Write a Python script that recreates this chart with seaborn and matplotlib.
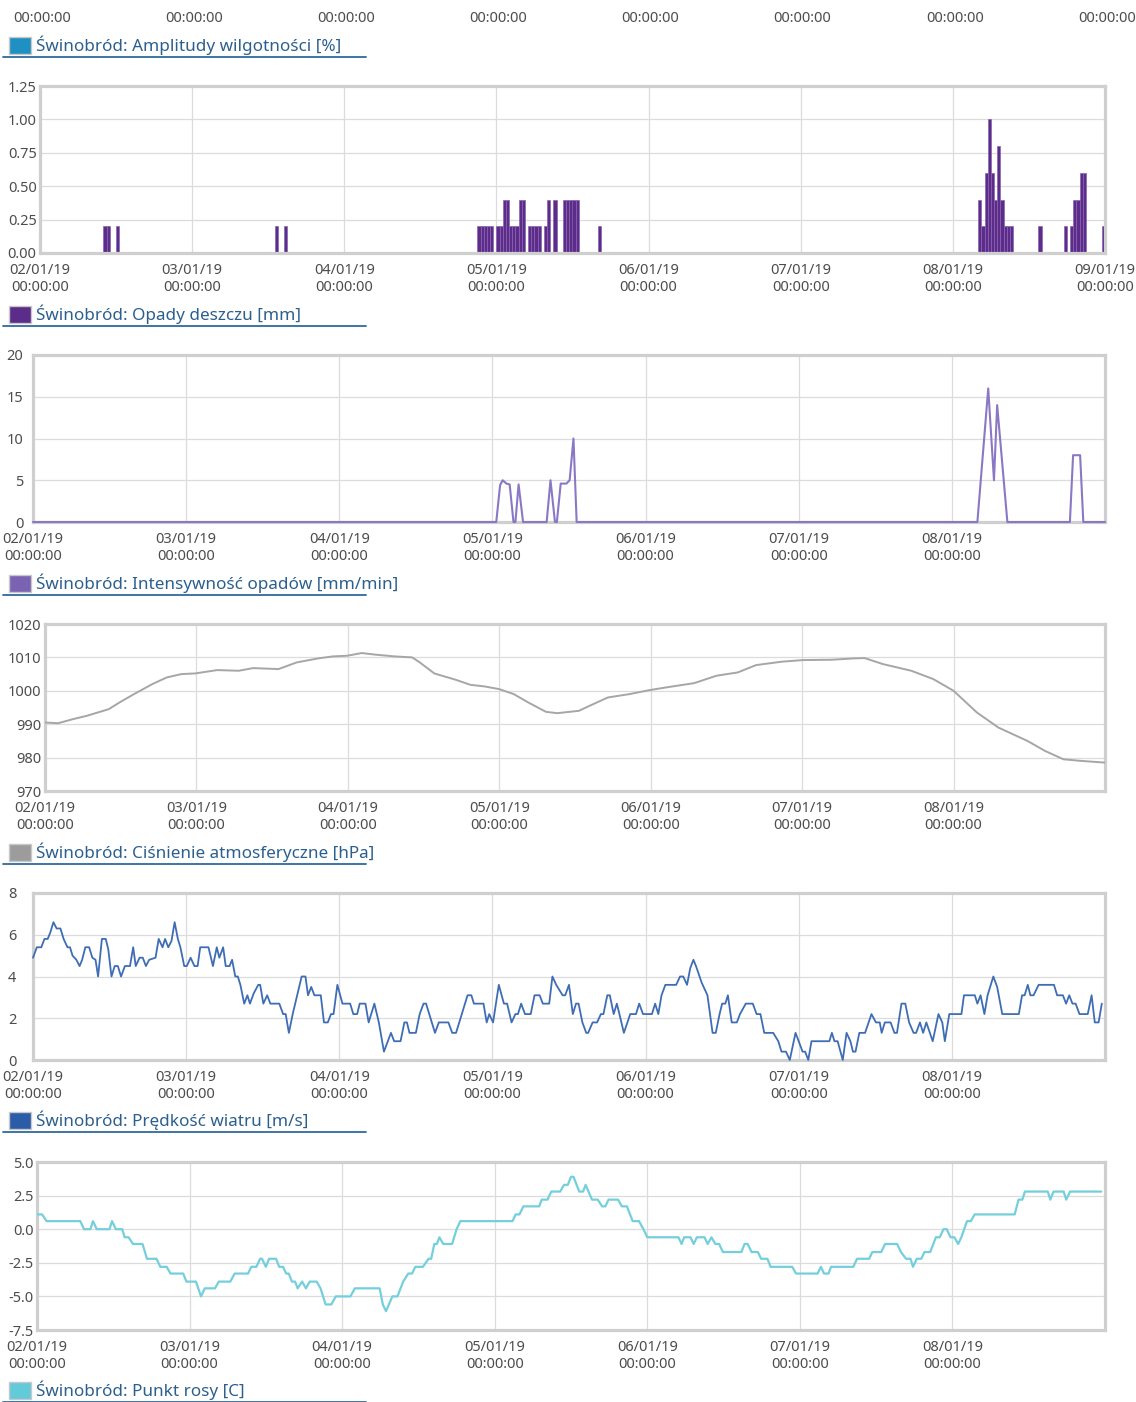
import matplotlib
matplotlib.use("Agg")
import matplotlib.pyplot as plt
import matplotlib.transforms as mtransforms
from matplotlib.patches import Rectangle
from matplotlib.lines import Line2D
import seaborn as sns
import pandas as pd

# time axis: hours since 02/01/19 00:00:00
day_starts = pd.date_range("2019-01-02", periods=8, freq="D")
day_hours = [24 * i for i in range(8)]
day_labels = [d.strftime("%d/%m/%y\n%H:%M:%S") for d in day_starts]

# Opady deszczu [mm], 30 min sums (start hour of each slot)
rain_hour = [10.0, 10.5, 12.0, 37.0, 38.5,
             69.0, 69.5, 70.0, 70.5, 71.0, 72.0, 72.5, 73.0, 73.5, 74.0,
             74.5, 75.0, 75.5, 76.0, 77.0, 77.5, 78.0, 78.5, 79.5, 80.0,
             81.0, 82.5, 83.0, 83.5, 84.0, 84.5, 88.0,
             148.0, 148.5, 149.0, 149.5, 150.0, 150.5, 151.0, 151.5, 152.0,
             152.5, 153.0, 157.5, 161.5, 162.5, 163.0, 163.5, 164.0, 164.5, 167.5]
rain_mm = [0.2, 0.2, 0.2, 0.2, 0.2,
           0.2, 0.2, 0.2, 0.2, 0.2, 0.2, 0.2, 0.4, 0.4, 0.2,
           0.2, 0.2, 0.4, 0.4, 0.2, 0.2, 0.2, 0.2, 0.2, 0.4,
           0.4, 0.4, 0.4, 0.4, 0.4, 0.4, 0.2,
           0.4, 0.2, 0.6, 1.0, 0.6, 0.4, 0.8, 0.4, 0.2,
           0.2, 0.2, 0.2, 0.2, 0.2, 0.4, 0.4, 0.6, 0.6, 0.2]

# Intensywność opadów [mm/min]
int_hour = [0, 72.6, 73.2, 73.6, 74.2, 74.7, 75.3, 75.6, 76.1, 76.8,
            80.5, 81.1, 81.8, 82.1, 82.7, 83.6, 84.1, 84.7, 85.2,
            148.0, 149.7, 150.6, 151.1, 152.7,
            162.5, 163.0, 164.1, 164.6, 168.0]
int_val = [0, 0, 4.4, 5.0, 4.6, 4.5, 0, 0, 4.5, 0,
           0, 5.0, 0, 0, 4.6, 4.6, 5.0, 10.0, 0,
           0, 16.0, 5.0, 14.0, 0,
           0, 8.0, 8.0, 0, 0]

# Ciśnienie atmosferyczne [hPa]
pres_hour = [0, 2.1, 4.4, 6.6, 10.1, 11.8, 14.1, 17.0, 19.3, 21.6,
             23.8, 27.3, 30.7, 33.0, 37.0, 39.9, 43.3, 45.6, 47.9, 50.2,
             52.5, 55.4, 58.2, 59.4, 61.7, 65.1, 67.4, 69.7, 72.0, 74.3,
             76.6, 79.4, 81.2, 84.6, 86.3, 89.2, 92.6, 95.8, 98.4, 102.9,
             106.4, 109.8, 112.7, 116.7, 120.1, 124.7, 128.2, 129.9, 132.8, 137.3,
             140.8, 144.0, 147.7, 151.1, 155.7, 158.5, 161.4, 164.3, 168.0]
pres_hpa = [990.5, 990.3, 991.5, 992.5, 994.5, 996.5, 999.0, 1002.0, 1004.0, 1005.0,
            1005.2, 1006.2, 1006.0, 1006.8, 1006.5, 1008.5, 1009.7, 1010.3, 1010.5, 1011.3,
            1010.8, 1010.3, 1010.0, 1008.5, 1005.2, 1003.3, 1001.8, 1001.3, 1000.5, 999.0,
            996.5, 993.7, 993.3, 994.0, 995.5, 998.0, 999.0, 1000.2, 1001.0, 1002.3,
            1004.5, 1005.5, 1007.7, 1008.7, 1009.2, 1009.3, 1009.7, 1009.8, 1008.0, 1006.0,
            1003.5, 1000.0, 993.5, 989.0, 985.0, 982.0, 979.5, 979.0, 978.5]

# Prędkość wiatru [m/s]
wind_hour = [0, 0.6, 1.3, 1.8, 2.3, 2.7, 3.2, 3.7, 4.3, 4.8,
             5.4, 5.8, 6.2, 6.8, 7.3, 7.7, 8.2, 8.8, 9.3, 9.8,
             10.2, 10.8, 11.4, 11.8, 12.3, 12.8, 13.3, 13.8, 14.4, 15.2,
             15.7, 16.1, 16.7, 17.2, 17.7, 18.2, 19.2, 19.7, 20.3, 20.7,
             21.2, 21.7, 22.2, 22.7, 23.1, 23.7, 24.1, 24.7, 25.3, 25.8,
             26.2, 27.5, 28.2, 28.8, 29.2, 29.8, 30.2, 30.8, 31.2, 31.7,
             32.1, 32.5, 33.1, 33.6, 34.0, 34.6, 35.3, 35.6, 36.1, 36.7,
             37.2, 38.6, 39.2, 39.6, 40.1, 40.7, 41.4, 42.1, 42.7, 43.1,
             43.6, 44.1, 45.1, 45.6, 46.2, 46.7, 47.1, 47.7, 48.5, 49.7,
             50.2, 50.8, 51.2, 52.1, 52.6, 53.5, 54.2, 55.0, 56.1, 56.6,
             57.6, 58.2, 58.6, 59.0, 60.0, 60.6, 61.2, 61.6, 62.1, 63.0,
             63.6, 65.1, 65.7, 66.3, 67.2, 68.1, 68.7, 69.1, 70.6, 71.1,
             71.5, 72.1, 73.0, 73.8, 74.3, 75.0, 75.6, 76.0, 76.5, 77.1,
             78.0, 78.6, 79.4, 79.9, 80.9, 81.4, 82.0,
             83.0, 83.4, 84.0, 84.6, 85.1, 85.5, 86.1, 86.7, 87.0, 87.7,
             88.4, 89.0, 89.4, 90.0, 90.4, 91.0, 91.5, 91.9, 92.6, 93.6,
             94.5, 95.0, 95.6, 97.0, 97.5, 98.0, 98.5, 99.1, 100.8, 101.4,
             101.9, 102.5, 103.0, 103.5, 103.9, 104.8, 105.7, 106.5, 107.0, 107.6,
             108.0, 108.5, 108.9, 109.5, 110.3, 110.8, 111.7, 112.8, 113.4, 114.0,
             114.6, 116.0, 116.8, 117.3, 118.0, 118.6, 119.5, 120.0, 120.6, 121.0,
             121.5, 122.0, 124.8, 125.2, 125.6, 126.1, 126.9, 127.5, 128.1, 128.5,
             128.9, 129.5, 130.4, 131.4, 132.1, 132.7, 133.0, 133.5, 134.4, 135.0,
             135.4, 136.1, 136.7, 137.3, 138.0, 138.4, 139.0, 139.5, 140.0, 141.0,
             141.9, 142.5, 142.9, 143.6, 144.0, 145.5, 145.9, 147.6, 148.0, 148.5,
             149.1, 149.6, 150.5, 151.1, 151.9, 154.5, 155.0, 155.4, 155.9, 156.3,
             156.8, 157.6, 160.0, 160.5, 161.4, 161.9, 162.4, 162.9, 163.4, 164.0,
             165.3, 165.9, 166.4, 167.0, 167.5]
wind_ms = [4.9, 5.4, 5.4, 5.8, 5.8, 6.1, 6.6, 6.3, 6.3, 5.8,
           5.4, 5.4, 5.0, 4.8, 4.5, 4.8, 5.4, 5.4, 4.9, 4.8,
           4.0, 5.8, 5.8, 5.3, 4.0, 4.5, 4.5, 4.0, 4.5, 4.5,
           5.4, 4.5, 4.9, 4.9, 4.5, 4.8, 4.9, 5.8, 5.4, 5.8,
           5.4, 5.7, 6.6, 5.8, 5.4, 4.5, 4.5, 4.9, 4.5, 4.5,
           5.4, 5.4, 4.5, 5.4, 4.9, 5.4, 4.5, 4.5, 4.8, 4.0,
           4.0, 3.6, 2.7, 3.1, 2.7, 3.2, 3.6, 3.6, 2.7, 3.1,
           2.7, 2.7, 2.2, 2.2, 1.3, 2.2, 3.1, 4.0, 4.0, 3.1,
           3.5, 3.1, 3.1, 1.8, 1.8, 2.2, 2.2, 3.6, 2.7, 2.7,
           2.2, 2.2, 2.7, 2.7, 1.8, 2.7, 1.8, 0.4, 1.3, 0.9,
           0.9, 1.8, 1.8, 1.3, 1.3, 2.2, 2.7, 2.7, 2.2, 1.3,
           1.8, 1.8, 1.3, 1.3, 2.2, 3.1, 3.1, 2.7, 2.7, 1.8,
           2.2, 1.8, 3.6, 2.7, 2.7, 1.8, 2.2, 2.2, 2.7, 2.2,
           2.2, 3.1, 3.1, 2.7, 2.7, 4.0, 3.6,
           3.1, 3.1, 3.6, 2.2, 2.7, 2.7, 1.8, 1.3, 1.3, 1.8,
           1.8, 2.2, 2.2, 3.1, 3.1, 2.2, 2.7, 2.2, 1.3, 2.2,
           2.2, 2.7, 2.2, 2.2, 2.7, 2.2, 3.1, 3.6, 3.6, 4.0,
           4.0, 3.6, 4.4, 4.8, 4.5, 3.7, 3.1, 1.3, 1.3, 2.2,
           2.7, 2.7, 3.1, 1.8, 1.8, 2.2, 2.7, 2.7, 2.2, 2.2,
           1.3, 1.3, 0.9, 0.4, 0.4, 0.0, 1.3, 0.9, 0.4, 0.4,
           0.0, 0.9, 0.9, 1.3, 0.9, 0.9, 0.0, 1.3, 0.9, 0.4,
           0.4, 1.3, 1.3, 2.2, 1.8, 1.8, 1.3, 1.8, 1.8, 1.3,
           1.3, 2.7, 2.7, 1.8, 1.3, 1.3, 1.8, 1.3, 1.8, 0.9,
           2.2, 1.8, 0.9, 2.2, 2.2, 2.2, 3.1, 3.1, 2.7, 3.1,
           2.2, 3.1, 4.0, 3.5, 2.2, 2.2, 3.1, 3.1, 3.6, 3.1,
           3.1, 3.6, 3.6, 3.1, 3.1, 2.7, 3.1, 2.7, 2.7, 2.2,
           2.2, 3.1, 1.8, 1.8, 2.7]

# Punkt rosy [C]
dew_hour = [0, 0.8, 1.5, 6.8, 7.4, 8.4, 8.8, 9.4, 11.4, 11.8,
            12.4, 13.4, 13.8, 14.4, 15.1, 16.6, 17.3, 18.8, 19.4, 20.4,
            21.0, 23.0, 23.5, 25.0, 25.8, 26.4, 28.0, 28.6, 30.4, 31.1,
            33.2, 33.7, 34.5, 35.1, 35.4, 36.0, 36.5, 37.6, 38.1, 38.7,
            39.2, 39.6, 40.1, 40.6, 41.0, 41.7, 42.3, 42.9, 44.0, 44.6,
            45.4, 46.3, 47.0, 49.3, 50.0, 53.9, 54.4, 54.9, 55.9, 56.7,
            57.6, 58.4, 59.0, 59.5, 60.7, 61.6, 62.0, 62.5, 62.9, 63.3,
            63.9, 65.3, 66.0, 66.6, 74.8, 75.3, 75.9, 76.5, 79.0, 79.4,
            80.3, 80.9, 82.3, 82.9, 83.5, 84.0, 84.4, 85.3, 85.9, 86.3,
            87.3, 88.2, 88.9, 89.4, 89.9, 91.4, 92.0, 92.8, 93.7, 94.7,
            95.4, 96.0, 100.9, 101.4, 101.8, 102.8, 103.3, 103.8, 105.0, 105.5,
            106.1, 106.7, 107.3, 107.9, 110.8, 111.3, 111.8, 112.4, 113.4, 113.9,
            114.9, 115.4, 118.8, 119.4, 122.8, 123.3, 123.8, 124.5, 124.9, 128.4,
            129.0, 130.9, 131.4, 132.8, 133.4, 135.3, 135.9, 136.7, 137.4, 137.8,
            138.4, 139.1, 139.6, 140.5, 141.4, 142.0, 142.6, 143.1, 143.7, 144.3,
            144.9, 145.4, 146.3, 146.9, 147.5, 153.8, 154.4, 155.0, 155.4, 159.0,
            159.4, 159.9, 161.5, 161.9, 162.5, 167.4]
dew_c = [1.1, 1.1, 0.6, 0.6, 0.0, 0.0, 0.6, 0.0, 0.0, 0.6,
         0.0, 0.0, -0.6, -0.6, -1.1, -1.1, -2.2, -2.2, -2.8, -2.8,
         -3.3, -3.3, -3.9, -3.9, -5.0, -4.4, -4.4, -3.9, -3.9, -3.3,
         -3.3, -2.8, -2.8, -2.2, -2.2, -2.8, -2.2, -2.2, -2.8, -2.8,
         -3.3, -3.3, -3.9, -3.9, -4.4, -3.9, -4.4, -3.9, -3.9, -4.4,
         -5.6, -5.6, -5.0, -5.0, -4.4, -4.4, -5.6, -6.1, -5.0, -5.0,
         -3.9, -3.3, -3.3, -2.8, -2.8, -2.2, -2.2, -1.1, -1.1, -0.6,
         -1.1, -1.1, 0.0, 0.6, 0.6, 1.1, 1.1, 1.7, 1.7, 2.2,
         2.2, 2.8, 2.8, 3.3, 3.3, 3.9, 3.9, 2.8, 2.8, 3.3,
         2.2, 2.2, 1.7, 1.7, 2.2, 2.2, 1.7, 1.7, 0.6, 0.6,
         0.0, -0.6, -0.6, -1.1, -0.6, -0.6, -1.1, -0.6, -0.6, -1.1,
         -0.6, -1.1, -1.1, -1.7, -1.7, -1.1, -1.1, -1.7, -1.7, -2.2,
         -2.2, -2.8, -2.8, -3.3, -3.3, -2.8, -3.3, -3.3, -2.8, -2.8,
         -2.2, -2.2, -1.7, -1.7, -1.1, -1.1, -1.7, -2.2, -2.2, -2.8,
         -2.2, -2.2, -1.7, -1.7, -0.6, -0.6, 0.0, 0.0, -0.6, -0.6,
         -1.1, -0.6, 0.6, 0.6, 1.1, 1.1, 2.2, 2.2, 2.8, 2.8,
         2.2, 2.8, 2.8, 2.2, 2.8, 2.8]

sns.set_theme(style="whitegrid")
plt.rcParams["font.family"] = ["Noto Sans", "DejaVu Sans"]

W, H = 1136, 1402
fig = plt.figure(figsize=(W / 100, H / 100), dpi=100)

GRID = "#dcdcdc"
FRAME = "#cfcfcf"
TICK = "#4d4d4d"
LEG_TXT = "#2b5f8e"
LEG_LINE = "#2e6a9e"

shift_right = mtransforms.ScaledTranslation(3 / 100, 0, fig.dpi_scale_trans)


def panel(box, ylim, yticks, yfmt, ypad, label_last=False):
    left, top, right, bottom = box
    ax = fig.add_axes([left / W, 1 - bottom / H, (right - left) / W, (bottom - top) / H])
    ax.set_facecolor("white")
    ax.set_xlim(0, 168)
    ax.set_ylim(*ylim)
    n = 8 if label_last else 7
    ax.set_xticks(day_hours[:n])
    ax.set_xticklabels(day_labels[:n], linespacing=1.25)
    for lab in ax.get_xticklabels():
        lab.set_transform(lab.get_transform() + shift_right)
    ax.set_yticks(yticks)
    ax.set_yticklabels([yfmt.format(v) for v in yticks])
    ax.grid(True, color=GRID, linewidth=0.9)
    for s in ax.spines.values():
        s.set_visible(True)
        s.set_color(FRAME)
        s.set_linewidth(2.3)
    ax.tick_params(axis="both", length=0, labelsize=10.5, colors=TICK)
    ax.tick_params(axis="x", pad=7)
    ax.tick_params(axis="y", pad=ypad)
    return ax


def legend_row(yc, color, text):
    fig.add_artist(Rectangle((9 / W, 1 - (yc + 8.5) / H), 22 / W, 17 / H,
                             transform=fig.transFigure, facecolor=color,
                             edgecolor="#c8c8c8", linewidth=1))
    fig.text(36 / W, 1 - yc / H, text, color=LEG_TXT, fontsize=12.3,
             va="center", ha="left")
    fig.add_artist(Line2D([3 / W, 366 / W], [1 - (yc + 12) / H] * 2,
                          transform=fig.transFigure, color=LEG_LINE, linewidth=1.3))


# panel 1: rain
ax1 = panel((40, 86, 1105, 253), (0, 1.25), [0, 0.25, 0.5, 0.75, 1.0, 1.25],
            "{:.2f}", 2.5, label_last=True)
sns.histplot(x=rain_hour, weights=rain_mm, binwidth=0.5, binrange=(0, 168),
             color="#5b2c8a", alpha=1, edgecolor="#8a63b0", linewidth=0.5, ax=ax1)
# drop empty bins so they draw no edge on the base line
for p in list(ax1.patches):
    if p.get_height() <= 0:
        p.remove()

# panel 2: rain intensity
ax2 = panel((33, 355, 1105, 522), (0, 20), [0, 5, 10, 15, 20], "{:.0f}", 7)
sns.lineplot(x=int_hour, y=int_val, color="#8a78c4", linewidth=1.5, ax=ax2,
             clip_on=False, zorder=3)

# panel 3: pressure
ax3 = panel((45, 624, 1105, 791), (970, 1020), [970, 980, 990, 1000, 1010, 1020],
            "{:.0f}", 2.5)
sns.lineplot(x=pres_hour, y=pres_hpa, color="#a6a6a6", linewidth=1.4, ax=ax3, zorder=3)

# panel 4: wind
ax4 = panel((33, 893, 1105, 1060), (0, 8), [0, 2, 4, 6, 8], "{:.0f}", 12)
sns.lineplot(x=wind_hour, y=wind_ms, color="#3e6db5", linewidth=1.3, ax=ax4,
             clip_on=False, zorder=3)

# panel 5: dew point
ax5 = panel((37, 1162, 1105, 1330), (-7.5, 5), [-7.5, -5, -2.5, 0, 2.5, 5],
            "{:.1f}", 2.5)
sns.lineplot(x=dew_hour, y=dew_c, color="#74cfdc", linewidth=1.6, ax=ax5, zorder=3)

for ax in (ax1, ax2, ax3, ax4, ax5):
    ax.set_xlabel("")
    ax.set_ylabel("")

# cut-off time labels of the chart above
top_tr = mtransforms.blended_transform_factory(ax1.transData, fig.transFigure)
for h in day_hours:
    fig.text(h + 0.3, 1 - 18 / H, "00:00:00", transform=top_tr, ha="center",
             va="center", fontsize=10.5, color=TICK)

legend_row(45, "#1f90c2", "Świnobród: Amplitudy wilgotności [%]")
legend_row(314, "#5b2c8a", "Świnobród: Opady deszczu [mm]")
legend_row(583, "#7b63b3", "Świnobród: Intensywność opadów [mm/min]")
legend_row(852, "#9c9c9c", "Świnobród: Ciśnienie atmosferyczne [hPa]")
legend_row(1120, "#2b5ca8", "Świnobród: Prędkość wiatru [m/s]")
legend_row(1390, "#62cad8", "Świnobród: Punkt rosy [C]")

fig.savefig("out.png", dpi=100)
